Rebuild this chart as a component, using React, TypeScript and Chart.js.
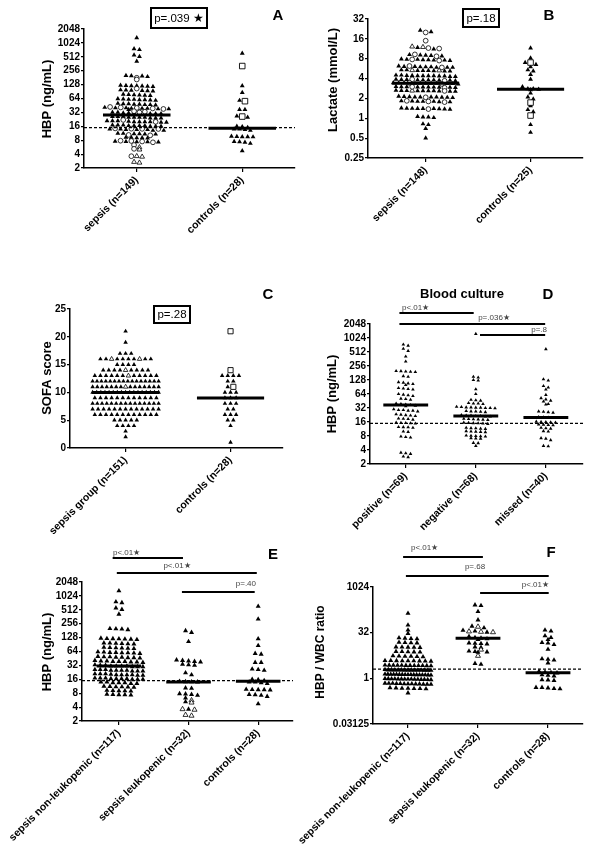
import React, { useEffect, useRef } from "react";
import { Chart, registerables } from "chart.js";

Chart.register(...registerables);

const FONT = 'Arial, "Liberation Sans", Helvetica, sans-serif';
Chart.defaults.font.family = FONT;

// ---------------- Categories ----------------
const catA = ["sepsis (n=149)", "controls (n=28)"];
const catB = ["sepsis (n=148)", "controls (n=25)"];
const catC = ["sepsis group (n=151)", "controls (n=28)"];
const catD = ["positive (n=69)", "negative (n=68)", "missed (n=40)"];
const catE = ["sepsis non-leukopenic (n=117)", "sepsis leukopenic (n=32)", "controls (n=28)"];
const catF = ["sepsis non-leukopenic (n=117)", "sepsis leukopenic (n=32)", "controls (n=28)"];

// ---------------- Tick labels ----------------
const hbpTicks = [2, 4, 8, 16, 32, 64, 128, 256, 512, 1024, 2048];
const hbpTickLabels = ["2", "4", "8", "16", "32", "64", "128", "256", "512", "1024", "2048"];
const lactateTicks = [0.25, 0.5, 1, 2, 4, 8, 16, 32];
const lactateTickLabels = ["0.25", "0.5", "1", "2", "4", "8", "16", "32"];
const sofaTicks = [0, 5, 10, 15, 20, 25];
const sofaTickLabels = ["0", "5", "10", "15", "20", "25"];
const ratioTicks = [0.03125, 1, 32, 1024];
const ratioTickLabels = ["0.03125", "1", "32", "1024"];

// ---------------- HBP (ng/mL): panels A and E ----------------
const nonLeukHBP = [
  1320, 760, 730, 560, 520, 410,
  200, 195, 190, 198,
  122, 118, 120, 116, 124, 119, 121,
  96, 94, 97, 93, 95, 98,
  77, 75, 78, 74, 76, 79,
  61, 59, 62, 60, 58, 63, 60, 61,
  49, 47, 48, 50, 47, 46, 49, 48,
  39, 38, 40, 39, 37, 41, 38, 40, 39,
  31, 30, 32, 31, 30, 33, 31, 32, 30, 31,
  25, 24, 26, 25, 24, 26, 25, 24, 25, 26,
  20, 21, 19.5, 20, 21, 20, 19.5, 20.5, 21, 20,
  16.5, 16, 17, 16.5, 16, 17, 16.5, 16, 17, 16.5,
  13.5, 13, 14, 13.5, 13, 13.5, 14,
  11, 11.2, 10.8, 11, 11.3, 10.9,
  9, 9.2, 8.9, 9.1, 9,
  7.4, 7.6, 7.3, 7.5, 7.4,
];
const leukHBP = [180, 165, 105, 42, 40, 38, 41, 39, 33, 32, 34, 22, 20, 14.2, 14.0, 14.4, 14.1, 10.4, 10.2, 7.7, 7.5, 7.8, 7.2, 6.3, 3.6, 5.2];
const leukHBPMarked = [5.0, 5.6, 3.6, 3.5, 2.7, 2.6];
const controlsHBP = [610, 120, 86, 58, 37, 37, 26.7, 25, 16, 15.7, 15, 14, 14, 13.5, 13, 9.5, 9.6, 9.4, 9.5, 9.7, 7.5, 7.2, 7.4, 6.8, 4.7];
const controlsHBPMarked = [323, 56, 26];
const medianA = [28, 14.5];
const medianE = [31, 14, 14.5];
const hbpCutoff = 15;

// ---------------- Lactate (mmol/L): panel B ----------------
const lactateSepsis = [
  21.5, 20.5,
  11.2, 11.8,
  9, 9.2, 8.8, 9.1, 8.9,
  7.7, 7.6, 7.8, 7.5, 7.9, 7.7, 7.6, 7.8,
  6, 6.1, 5.9, 6, 6.2, 5.9, 6.1, 6, 5.9,
  5.3, 5.2, 5.4, 5.3, 5.2, 5.4, 5.3, 5.25,
  4.4, 4.3, 4.5, 4.4, 4.35, 4.45, 4.4, 4.3, 4.5, 4.4, 4.35, 4.45,
  3.8, 3.75, 3.85, 3.8, 3.7, 3.9, 3.8, 3.75, 3.85, 3.8,
  3.4, 3.35, 3.45, 3.4, 3.3, 3.45, 3.4, 3.35, 3.45, 3.4, 3.38,
  2.97, 2.95, 3, 2.97, 2.92, 3.02, 2.97, 2.94, 3, 2.96,
  2.6, 2.58, 2.62, 2.6, 2.55, 2.65, 2.6, 2.57, 2.63, 2.6,
  2.1, 2.08, 2.12, 2.1, 2.05, 2.15, 2.1, 2.07, 2.13, 2.1,
  1.8, 1.78, 1.82, 1.8, 1.77, 1.83, 1.8,
  1.4, 1.38, 1.42, 1.4, 1.37, 1.43, 1.4, 1.39, 1.41,
  1.04, 1.02, 1.06, 1.04,
  0.82, 0.8, 0.7, 0.5,
];
const lactateLeuk = [20, 15, 11.6, 11.4, 9.3, 8.7, 7.8, 7.5, 6.2, 5.9, 3.9, 3.7, 3.45, 3.32, 3.0, 2.9, 2.6, 2.08, 1.8, 1.76, 1.84, 1.38];
const lactateLeukMarked = [12.2, 12, 5.35, 5.3, 2.62];
const lactateControls = [11.6, 8.2, 7.0, 6.5, 6.0, 5.4, 5.2, 4.6, 3.9, 3.0, 2.8, 2.8, 2.75, 2.7, 2.4, 2.1, 1.95, 1.55, 1.35, 1.25, 0.8, 0.61];
const lactateControlsMarked = [7.0, 1.73, 1.1];
const medianB = [3.4, 2.75];

// ---------------- SOFA score: panel C ----------------
const sofaSepsis = [
  21, 19, 17, 17, 17,
  16, 16, 16, 16, 16, 16, 16, 16,
  15, 15, 15, 15,
  14, 14, 14, 14, 14, 14, 14, 14,
  13, 13, 13, 13, 13, 13, 13, 13, 13, 13, 13,
  12, 12, 12, 12, 12, 12, 12, 12, 12, 12, 12, 12, 12, 12, 12, 12,
  11, 11, 11, 11, 11, 11, 11, 11, 11, 11, 11, 11, 11, 11,
  10, 10, 10, 10, 10, 10, 10, 10, 10, 10, 10, 10, 10, 10, 10, 10, 10,
  9, 9, 9, 9, 9, 9, 9, 9, 9, 9, 9, 9,
  8, 8, 8, 8, 8, 8, 8, 8, 8, 8, 8, 8, 8, 8, 8,
  7, 7, 7, 7, 7, 7, 7, 7, 7, 7, 7, 7, 7,
  6, 6, 6, 6, 6, 6, 6, 6, 6, 6, 6, 6,
  5, 5, 5, 5, 5,
  4, 4, 4, 4,
  3, 2,
];
const sofaSepsisMarked = [16, 16, 14, 13, 11];
const sofaControls = [13, 13, 13, 13, 12, 12, 11, 10, 10, 10, 9, 9, 9, 8, 8, 8, 7, 7, 6, 6, 6, 5, 5, 4, 1];
const sofaControlsMarked = [21, 14, 11];
const medianC = [10, 9];

// ---------------- Blood culture HBP: panel D ----------------
const hbpPositive = [
  740, 700, 600, 540, 410, 320,
  200, 195, 190, 198, 192,
  150, 155,
  112, 105, 108, 100, 115,
  84, 80, 86, 82,
  62, 60, 64, 58,
  50, 48, 51,
  38, 36, 40, 37, 39, 35,
  29, 28, 30, 27, 28, 29,
  23, 22, 23.5, 22.5, 21.5,
  18.5, 19, 18, 18.8,
  15.2, 15.5, 15, 14.8, 15.3,
  12.3, 12.5, 12, 12.4,
  10, 9.8,
  7.6, 7.8, 7.4,
  3.4, 3.5, 3.3,
  2.8, 2.9,
];
const hbpNegative = [
  1250,
  150, 145,
  128, 125,
  81, 64,
  48, 47, 46,
  40, 41, 39, 40,
  33, 32, 33.5, 32.5, 31.5, 33, 32, 34, 32.5,
  27, 26.5, 27.5, 26, 27,
  21.5, 22, 21, 21.5, 22.5, 21, 22,
  18.3, 18.5, 18, 18.8, 18.2, 17.8,
  15, 14.8, 15.3, 14.6, 15.1, 15.5,
  11.7, 11.5, 12, 11.8, 11.4,
  9.9, 10, 9.7, 10.2, 9.8,
  8, 8.1, 7.9, 8.2, 7.8,
  7.1, 7.0, 7.2,
  5.7, 5.6,
  4.9,
];
const hbpMissed = [
  590,
  133, 125,
  95, 88, 80,
  61,
  52, 49,
  46, 44,
  38, 39,
  26, 27, 25.5, 26.5,
  20, 20.5, 19.5, 20.2,
  16, 16.3, 15.8, 16.1, 15.6,
  14, 13.8, 14.2, 13.6,
  11.7, 11.5, 12,
  10, 10.2,
  7.2, 7.0,
  6.5,
  4.9, 4.8,
];
const medianD = [37, 21.6, 20];

// ---------------- HBP / WBC ratio: panel F ----------------
const nonLeukRatio = [
  139, 57, 39, 30,
  21, 20.5, 21.5, 20,
  15, 14.6, 15.4, 14.8,
  10.6, 10.4, 10.8, 10.5, 10.7,
  7.5, 7.3, 7.7, 7.4, 7.6,
  5.3, 5.2, 5.4, 5.3, 5.1, 5.5,
  3.76, 3.7, 3.82, 3.75, 3.65, 3.85, 3.78, 3.72, 3.8,
  2.66, 2.6, 2.7, 2.64, 2.58, 2.74, 2.68, 2.62, 2.7, 2.65, 2.63, 2.69,
  1.88, 1.85, 1.92, 1.87, 1.9, 1.84, 1.94, 1.86, 1.91, 1.88, 1.83, 1.93, 1.89, 1.87, 1.9,
  1.33, 1.3, 1.36, 1.32, 1.35, 1.29, 1.37, 1.31, 1.34, 1.33, 1.28, 1.38, 1.32, 1.35, 1.3, 1.34, 1.33,
  0.94, 0.92, 0.96, 0.93, 0.95, 0.91, 0.97, 0.94, 0.93, 0.95, 0.9, 0.98, 0.94, 0.96, 0.92,
  0.66, 0.65, 0.67, 0.64, 0.68, 0.66, 0.63, 0.69, 0.65, 0.67, 0.66, 0.64, 0.68,
  0.47, 0.46, 0.48, 0.45, 0.49, 0.47, 0.46,
  0.33,
];
const leukRatio = [262, 250, 158, 84, 52, 46, 38, 36, 33, 24, 22, 21, 20, 19, 14.6, 14.2, 14.0, 13.6, 10.8, 10.4, 7.9, 7.6, 7.4, 7.2, 3.1, 2.9];
const leukRatioMarked = [50, 35, 34, 33, 8.8, 5.5];
const controlsRatio = [39, 36, 25, 22, 19, 15, 14.5, 13, 9, 4.4, 4.2, 4.0, 3.2, 1.7, 1.6, 1.55, 1.5, 1.3, 1.25, 1.2, 0.9, 0.85, 0.88, 0.5, 0.48, 0.46, 0.5, 0.45];
const medianF = [1.88, 21, 1.54];
const ratioCutoff = 2;

// ---------------- Types ----------------
type Kind = "tri" | "circle" | "otri" | "square";
type Part = { values: number[]; kind: Kind };
type Bar = { from: number; to: number; y: number; label: string; lx: number; ly: number; align: CanvasTextAlign };
type Spec = {
  box: [number, number, number, number];
  plot: [number, number, number, number];
  xRange: [number, number];
  categories: string[];
  groups: Part[][];
  log: boolean;
  yRange: [number, number];
  yTicks: number[];
  yTickLabels: string[];
  yTitle: string;
  yTitlePos: [number, number];
  yTitleSize: number;
  medians: number[];
  cutoff?: number;
  markerR: number;
  spacingPx: number;
  maxHalfPx: number;
  letter: [string, number, number];
  pBox?: { text: string; rect: [number, number, number, number] };
  heading?: [string, number, number];
  bars?: Bar[];
};

const panels: Spec[] = [
  {
    box: [0, 0, 300, 280], plot: [84, 29, 295, 168], xRange: [-0.5, 1.5], categories: catA,
    groups: [
      [{ values: nonLeukHBP, kind: "tri" }, { values: leukHBP, kind: "circle" }, { values: leukHBPMarked, kind: "otri" }],
      [{ values: controlsHBP, kind: "tri" }, { values: controlsHBPMarked, kind: "square" }],
    ],
    log: true, yRange: [2, 2048], yTicks: hbpTicks, yTickLabels: hbpTickLabels,
    yTitle: "HBP (ng/mL)", yTitlePos: [47, 99], yTitleSize: 13,
    medians: medianA, cutoff: hbpCutoff, markerR: 2.8, spacingPx: 5.4, maxHalfPx: 32,
    letter: ["A", 278, 16], pBox: { text: "p=.039 \u2605", rect: [151, 8, 207, 28] },
  },
  {
    box: [300, 0, 300, 280], plot: [368, 19, 583, 158], xRange: [-0.55, 1.5], categories: catB,
    groups: [
      [{ values: lactateSepsis, kind: "tri" }, { values: lactateLeuk, kind: "circle" }, { values: lactateLeukMarked, kind: "otri" }],
      [{ values: lactateControls, kind: "tri" }, { values: lactateControlsMarked, kind: "square" }],
    ],
    log: true, yRange: [0.25, 32], yTicks: lactateTicks, yTickLabels: lactateTickLabels,
    yTitle: "Lactate (mmol/L)", yTitlePos: [333, 80], yTitleSize: 13,
    medians: medianB, markerR: 2.8, spacingPx: 5.4, maxHalfPx: 33,
    letter: ["B", 549, 16], pBox: { text: "p=.18", rect: [463, 9, 499, 27] },
  },
  {
    box: [0, 280, 300, 260], plot: [70, 309, 283, 448], xRange: [-0.53, 1.5], categories: catC,
    groups: [
      [{ values: sofaSepsis, kind: "tri" }, { values: sofaSepsisMarked, kind: "otri" }],
      [{ values: sofaControls, kind: "tri" }, { values: sofaControlsMarked, kind: "square" }],
    ],
    log: false, yRange: [0, 25], yTicks: sofaTicks, yTickLabels: sofaTickLabels,
    yTitle: "SOFA score", yTitlePos: [47, 378], yTitleSize: 13,
    medians: medianC, markerR: 2.6, spacingPx: 5.6, maxHalfPx: 33,
    letter: ["C", 268, 295], pBox: { text: "p=.28", rect: [154, 306, 190, 323] },
  },
  {
    box: [300, 280, 300, 260], plot: [370, 324, 583, 464], xRange: [-0.51, 2.53], categories: catD,
    groups: [
      [{ values: hbpPositive, kind: "tri" }],
      [{ values: hbpNegative, kind: "tri" }],
      [{ values: hbpMissed, kind: "tri" }],
    ],
    log: true, yRange: [2, 2048], yTicks: hbpTicks, yTickLabels: hbpTickLabels,
    yTitle: "HBP (ng/mL)", yTitlePos: [332, 394], yTitleSize: 13,
    medians: medianD, cutoff: hbpCutoff, markerR: 2.1, spacingPx: 4.8, maxHalfPx: 22,
    letter: ["D", 548, 295], heading: ["Blood culture", 462, 294],
    bars: [
      { from: -0.09, to: 0.97, y: 313, label: "p<.01\u2605", lx: 402, ly: 308, align: "left" },
      { from: -0.09, to: 1.99, y: 324, label: "p=.036\u2605", lx: 494, ly: 318, align: "center" },
      { from: 1.06, to: 1.99, y: 335, label: "p=.8", lx: 547, ly: 330, align: "right" },
    ],
  },
  {
    box: [0, 540, 300, 316], plot: [82, 582, 293, 721], xRange: [-0.53, 2.5], categories: catE,
    groups: [
      [{ values: nonLeukHBP, kind: "tri" }],
      [{ values: leukHBP, kind: "tri" }, { values: leukHBPMarked, kind: "otri" }],
      [{ values: controlsHBP, kind: "tri" }, { values: controlsHBPMarked, kind: "tri" }],
    ],
    log: true, yRange: [2, 2048], yTicks: hbpTicks, yTickLabels: hbpTickLabels,
    yTitle: "HBP (ng/mL)", yTitlePos: [47, 652], yTitleSize: 13,
    medians: medianE, cutoff: hbpCutoff, markerR: 2.9, spacingPx: 6, maxHalfPx: 24,
    letter: ["E", 273, 555],
    bars: [
      { from: -0.09, to: 0.92, y: 558, label: "p<.01\u2605", lx: 113, ly: 553, align: "left" },
      { from: -0.03, to: 1.98, y: 573, label: "p<.01\u2605", lx: 177, ly: 566, align: "center" },
      { from: 0.905, to: 1.95, y: 592, label: "p=.40", lx: 256, ly: 584, align: "right" },
    ],
  },
  {
    box: [296, 540, 304, 316], plot: [373, 587, 583, 724], xRange: [-0.5, 2.5], categories: catF,
    groups: [
      [{ values: nonLeukRatio, kind: "tri" }],
      [{ values: leukRatio, kind: "tri" }, { values: leukRatioMarked, kind: "otri" }],
      [{ values: controlsRatio, kind: "tri" }],
    ],
    log: true, yRange: [0.03125, 1024], yTicks: ratioTicks, yTickLabels: ratioTickLabels,
    yTitle: "HBP / WBC ratio", yTitlePos: [321, 652], yTitleSize: 12,
    medians: medianF, cutoff: ratioCutoff, markerR: 2.9, spacingPx: 6, maxHalfPx: 23,
    letter: ["F", 551, 553],
    bars: [
      { from: -0.07, to: 1.07, y: 557, label: "p<.01\u2605", lx: 411, ly: 548, align: "left" },
      { from: -0.03, to: 2.01, y: 576, label: "p=.68", lx: 475, ly: 567, align: "center" },
      { from: 1.03, to: 2.01, y: 593, label: "p<.01\u2605", lx: 549, ly: 585, align: "right" },
    ],
  },
];

// ---------------- Swarm layout (Prism-like scatter dot plot) ----------------
const ROW_TOL = 2.5;
type Item = { v: number; kind: Kind; py: number };

function layoutSwarm(spec: Spec) {
  const [pl, pt, pr, pb] = spec.plot;
  const plotH = pb - pt;
  const plotW = pr - pl;
  const unitsPerPx = (spec.xRange[1] - spec.xRange[0]) / plotW;
  const toPx = spec.log
    ? (v: number) => (-Math.log2(v) * plotH) / Math.log2(spec.yRange[1] / spec.yRange[0])
    : (v: number) => (-v * plotH) / (spec.yRange[1] - spec.yRange[0]);
  const out: Record<Kind, { x: number; y: number }[]> = { tri: [], circle: [], otri: [], square: [] };
  spec.groups.forEach((parts, ci) => {
    const items: Item[] = [];
    parts.forEach((p) => p.values.forEach((v) => items.push({ v, kind: p.kind, py: toPx(v) })));
    items.sort((a, b) => a.py - b.py);
    const rows: Item[][] = [];
    let cur: Item[] | null = null;
    for (const it of items) {
      if (cur && it.py - cur[0].py <= ROW_TOL) cur.push(it);
      else {
        cur = [it];
        rows.push(cur);
      }
    }
    for (const row of rows) {
      const filled = row.filter((r) => r.kind === "tri");
      const open = row.filter((r) => r.kind !== "tri");
      const n = row.length;
      const slots: (Item | null)[] = new Array(n).fill(null);
      open.forEach((o, j) => {
        let k = Math.min(n - 1, Math.floor(((j + 0.5) * n) / open.length));
        while (slots[k]) k = (k + 1) % n;
        slots[k] = o;
      });
      let fi = 0;
      for (let k = 0; k < n; k++) if (!slots[k]) slots[k] = filled[fi++];
      const sp = n > 1 ? Math.min(spec.spacingPx, (2 * spec.maxHalfPx) / (n - 1)) : 0;
      slots.forEach((it, k) => {
        if (!it) return;
        out[it.kind].push({ x: ci + (k - (n - 1) / 2) * sp * unitsPerPx, y: it.v });
      });
    }
  });
  return out;
}

function makeDeco(spec: Spec) {
  return {
    id: "deco",
    afterDraw(chart: any) {
      const ctx: CanvasRenderingContext2D = chart.ctx;
      const ox = spec.box[0];
      const oy = spec.box[1];
      ctx.save();
      ctx.fillStyle = "#000";
      ctx.strokeStyle = "#000";
      ctx.save();
      ctx.translate(spec.yTitlePos[0] - ox, spec.yTitlePos[1] - oy);
      ctx.rotate(-Math.PI / 2);
      ctx.font = `bold ${spec.yTitleSize}px ${FONT}`;
      ctx.textAlign = "center";
      ctx.textBaseline = "middle";
      ctx.fillText(spec.yTitle, 0, 0);
      ctx.restore();
      ctx.font = `bold 15px ${FONT}`;
      ctx.textAlign = "center";
      ctx.textBaseline = "middle";
      ctx.fillText(spec.letter[0], spec.letter[1] - ox, spec.letter[2] - oy);
      if (spec.heading) {
        ctx.font = `bold 13px ${FONT}`;
        ctx.fillText(spec.heading[0], spec.heading[1] - ox, spec.heading[2] - oy);
      }
      if (spec.pBox) {
        const [x0, y0, x1, y1] = spec.pBox.rect;
        ctx.lineWidth = 2;
        ctx.strokeRect(x0 - ox, y0 - oy, x1 - x0, y1 - y0);
        ctx.font = `11.5px ${FONT}`;
        ctx.fillText(spec.pBox.text, (x0 + x1) / 2 - ox, (y0 + y1) / 2 - oy + 0.5);
      }
      const xs = chart.scales.x;
      (spec.bars || []).forEach((b) => {
        ctx.lineWidth = 2;
        ctx.strokeStyle = "#000";
        ctx.beginPath();
        ctx.moveTo(xs.getPixelForValue(b.from), b.y - oy);
        ctx.lineTo(xs.getPixelForValue(b.to), b.y - oy);
        ctx.stroke();
        ctx.font = `8px ${FONT}`;
        ctx.fillStyle = "#444";
        ctx.textAlign = b.align;
        ctx.textBaseline = "middle";
        ctx.fillText(b.label, b.lx - ox, b.ly - oy);
        ctx.fillStyle = "#000";
      });
      ctx.restore();
    },
  };
}

function buildChart(canvas: HTMLCanvasElement, spec: Spec) {
  const [bl, bt, bw, bh] = spec.box;
  const [pl, pt, pr, pb] = spec.plot;
  const pts = layoutSwarm(spec);
  const datasets: any[] = [];
  spec.medians.forEach((m, i) =>
    datasets.push({
      data: [{ x: i - 0.32, y: m }, { x: i + 0.32, y: m }],
      showLine: true, borderColor: "#000", borderWidth: 3, pointRadius: 0, fill: false,
    })
  );
  if (spec.cutoff !== undefined) {
    datasets.push({
      data: [{ x: spec.xRange[0], y: spec.cutoff }, { x: spec.xRange[1], y: spec.cutoff }],
      showLine: true, borderColor: "#000", borderWidth: 1.2, borderDash: [3, 2], pointRadius: 0, fill: false,
    });
  }
  const r = spec.markerR;
  const styles: Record<Kind, any> = {
    square: { pointStyle: "rect", pointRadius: r * 1.4, backgroundColor: "#fff", borderColor: "#000", borderWidth: 0.9 },
    circle: { pointStyle: "circle", pointRadius: r * 0.85, backgroundColor: "#fff", borderColor: "#000", borderWidth: 0.8 },
    otri: { pointStyle: "triangle", pointRadius: r, backgroundColor: "#fff", borderColor: "#000", borderWidth: 0.8 },
    tri: { pointStyle: "triangle", pointRadius: r, backgroundColor: "#000", borderColor: "#000", borderWidth: 0 },
  };
  (["square", "circle", "otri", "tri"] as Kind[]).forEach((k) => {
    if (pts[k].length === 0) return;
    datasets.push({ data: pts[k], showLine: false, ...styles[k] });
  });

  const tickFontY = { family: FONT, size: 10, weight: "bold" as const };
  const tickFontX = { family: FONT, size: 10.5, weight: "bold" as const };
  return new Chart(canvas, {
    type: "scatter",
    data: { datasets },
    options: {
      responsive: false,
      animation: false,
      devicePixelRatio: 1,
      events: [],
      layout: { padding: { left: 0, top: pt - bt, right: bl + bw - pr, bottom: 0 } },
      plugins: { legend: { display: false }, tooltip: { enabled: false } },
      scales: {
        x: {
          type: "linear",
          min: spec.xRange[0],
          max: spec.xRange[1],
          afterBuildTicks: (s: any) => {
            s.ticks = spec.categories.map((_, i) => ({ value: i }));
          },
          afterFit: (s: any) => {
            s.height = bt + bh - pb;
            s.paddingLeft = 0;
            s.paddingRight = 0;
          },
          ticks: {
            autoSkip: false,
            minRotation: 45,
            maxRotation: 45,
            padding: 2,
            color: "#000",
            font: tickFontX,
            callback: (_v: any, i: number) => spec.categories[i],
          },
          grid: { display: true, drawOnChartArea: false, drawTicks: true, tickLength: 4, color: "#000", lineWidth: 1.2 },
          border: { display: true, color: "#000", width: 1.5 },
        },
        y: {
          type: spec.log ? "logarithmic" : "linear",
          min: spec.yRange[0],
          max: spec.yRange[1],
          afterBuildTicks: (s: any) => {
            s.ticks = spec.yTicks.map((v) => ({ value: v }));
          },
          afterFit: (s: any) => {
            s.width = pl - bl;
            s.paddingTop = 0;
            s.paddingBottom = 0;
          },
          ticks: {
            autoSkip: false,
            padding: 1,
            color: "#000",
            font: tickFontY,
            callback: (_v: any, i: number) => spec.yTickLabels[i],
          },
          grid: { display: true, drawOnChartArea: false, drawTicks: true, tickLength: 3, color: "#000", lineWidth: 1.2 },
          border: { display: true, color: "#000", width: 1.5 },
        },
      } as any,
    },
    plugins: [makeDeco(spec)],
  } as any);
}

function Panel({ spec }: { spec: Spec }) {
  const ref = useRef<HTMLCanvasElement>(null);
  useEffect(() => {
    if (!ref.current) return;
    const chart = buildChart(ref.current, spec);
    return () => chart.destroy();
  }, [spec]);
  const [l, t, w, h] = spec.box;
  return (
    <canvas
      ref={ref}
      width={w}
      height={h}
      style={{ position: "absolute", left: l, top: t, width: w, height: h }}
    />
  );
}

export default function App() {
  return (
    <div style={{ position: "absolute", left: 0, top: 0, width: 600, height: 856, background: "#fff", overflow: "hidden" }}>
      {panels.map((s, i) => (
        <Panel key={i} spec={s} />
      ))}
    </div>
  );
}
